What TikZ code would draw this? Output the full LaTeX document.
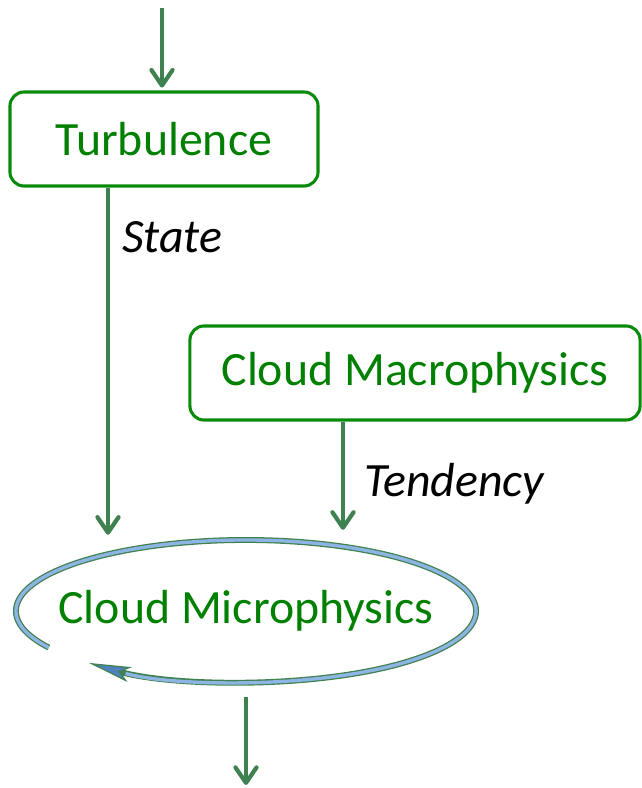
\documentclass[tikz,border=0pt]{standalone}
\usepackage{fontspec}
\setmainfont{Carlito}
\usetikzlibrary{arrows.meta,positioning,shapes.geometric}
\definecolor{BoxGreen}{HTML}{0A8A0A}
\definecolor{TextGreen}{HTML}{008000}
\definecolor{ArrowGreen}{HTML}{3F8150}
\definecolor{LoopBlue}{HTML}{8DB4E2}
\definecolor{TipBlue}{HTML}{4F81BD}

\begin{document}
\begin{tikzpicture}[x=0.025cm, y=0.025cm,
  box/.style={draw=BoxGreen, line width=2.2pt, rounded corners=10pt, text=TextGreen, font=\fontsize{34}{41}\selectfont, inner sep=0pt, minimum height=2.35cm},
  cyc/.style={ellipse, inner sep=0pt, minimum width=11.5cm, minimum height=3.55cm, text=TextGreen, font=\fontsize{34}{41}\selectfont},
  lbl/.style={anchor=base west, inner sep=0pt, font=\fontsize{34}{41}\selectfont\itshape},
  arr/.style={-{Straight Barb[length=11pt, width=15pt, round]}, line width=3pt, ArrowGreen},
  loopout/.style={line width=4.2pt, ArrowGreen, -{Stealth[length=30pt, width=11pt, inset=7pt, line width=0.9pt, fill=TipBlue]}},
  loopin/.style={line width=2.4pt, LoopBlue, shorten >=27pt}
]
\path[use as bounding box] (0,0) rectangle (642,-788);

\coordinate (in) at (162,-8);
\node[box, minimum width=7.7cm] (turb) at (164,-139) {Turbulence};
\node[box, minimum width=11.25cm] (macro) at (415,-373) {Cloud Macrophysics};
\node[cyc] (micro) at (246,-611) {Cloud Microphysics};
\coordinate (out) at (246,-785);

\draw[arr, shorten >=2pt] (in) -- (in |- turb.north);
\draw[arr, shorten >=3.5pt] ([xshift=-1.4cm]turb.south) -- ([xshift=-1.4cm]turb.south |- micro.north);
\draw[arr, shorten >=7pt] ([xshift=-1.8cm]macro.south) -- ([xshift=-1.8cm]macro.south |- micro.north);
\draw[arr] ([yshift=-0.375cm]micro.south) -- (out);

\node[lbl] (state) at (122,-252) {State};
\node[lbl] (tend) at (364,-496) {Tendency};

% loop round the microphysics
\draw[loopout] ([shift={(211:5.75cm and 1.775cm)}]micro.center) arc[start angle=211, end angle=-133, x radius=5.75cm, y radius=1.775cm];
\draw[loopin] ([shift={(211:5.75cm and 1.775cm)}]micro.center) arc[start angle=211, end angle=-133, x radius=5.75cm, y radius=1.775cm];
\end{tikzpicture}
\end{document}
